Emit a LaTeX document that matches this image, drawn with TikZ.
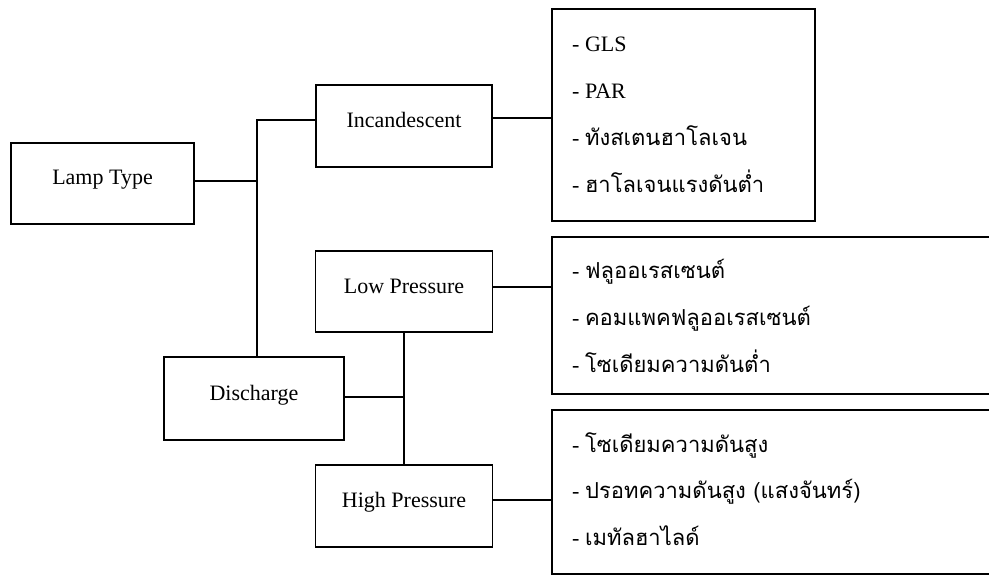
\documentclass[tikz,border=0pt]{standalone}
\usepackage{fontspec}
\setmainfont{Liberation Serif}
\newfontfamily\thaifont[Script=Thai]{Loma}
\begin{document}
\begin{tikzpicture}[x=1pt,y=-1pt,
  box/.style={draw, line width=1.3pt, rectangle, inner sep=0pt, font=\fontsize{22}{26}\selectfont, text height=15pt, text depth=12pt},
  listbox/.style={draw, line width=1.3pt, rectangle, inner sep=0pt},
  item/.style={anchor=base west, inner sep=0pt, font=\fontsize{22}{26}\selectfont},
  conn/.style={line width=1.3pt}]
\useasboundingbox (0,0) rectangle (989,575);
\clip (0,0) rectangle (989,575);
% main boxes
\node[box, minimum width=183pt, minimum height=81pt] (lamp) at (102.5,183.5) {Lamp Type};
\node[box, minimum width=176pt, minimum height=82pt] (inc) at (404,126) {Incandescent};
\node[box, minimum width=177pt, minimum height=81pt] (low) at (404,291.5) {Low Pressure};
\node[box, minimum width=180pt, minimum height=83pt] (dis) at (254,398.5) {Discharge};
\node[box, minimum width=177pt, minimum height=82pt] (high) at (404,506) {High Pressure};
% list boxes
\node[listbox, minimum width=263pt, minimum height=212pt] (l1) at (683.5,115) {};
\node[listbox, minimum width=460pt, minimum height=157pt] (l2) at (782,315.5) {};
\node[listbox, minimum width=460pt, minimum height=164pt] (l3) at (782,492) {};
% list texts
\node[item] (a1) at (572,52) {- GLS};
\node[item] (a2) at (572,99) {- PAR};
\node[item] (a3) at (572,146) {- {\thaifont ทังสเตนฮาโลเจน}};
\node[item] (a4) at (572,193) {- {\thaifont ฮาโลเจนแรงดันต่ำ}};
\node[item] (b1) at (572,278) {- {\thaifont ฟลูออเรสเซนต์}};
\node[item] (b2) at (572,325) {- {\thaifont คอมแพคฟลูออเรสเซนต์}};
\node[item] (b3) at (572,372) {- {\thaifont โซเดียมความดันต่ำ}};
\node[item] (c1) at (572,452) {- {\thaifont โซเดียมความดันสูง}};
\node[item] (c2) at (572,498) {- {\thaifont ปรอทความดันสูง (แสงจันทร์)}};
\node[item] (c3) at (572,545) {- {\thaifont เมทัลฮาไลด์}};
% connectors
\coordinate (jl) at (257,181);
\coordinate (jd) at (404,397);
\draw[conn] ([yshift=2.5pt]lamp.east) -- (jl);
\draw[conn] ([yshift=6pt]inc.west) -| ([xshift=3pt]dis.north);
\draw[conn] ([yshift=1.5pt]dis.east) -- (jd);
\draw[conn] (low.south) -- (high.north);
\draw[conn] ([yshift=8pt]inc.east) coordinate (ie) -- (ie -| l1.west);
\draw[conn] ([yshift=4.5pt]low.east) coordinate (le) -- (le -| l2.west);
\draw[conn] ([yshift=6pt]high.east) coordinate (he) -- (he -| l3.west);
\end{tikzpicture}
\end{document}
